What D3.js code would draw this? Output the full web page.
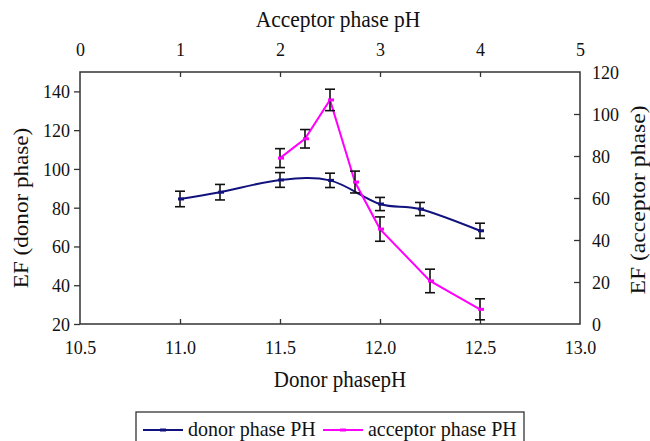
<!DOCTYPE html>
<html>
<head>
<meta charset="utf-8">
<script src="https://cdn.jsdelivr.net/npm/d3@7/dist/d3.min.js"></script>
<style>
  html, body { margin: 0; padding: 0; background: #fff; }
  svg { display: block; }
</style>
</head>
<body>
<svg id="chart" width="650" height="441"></svg>
<script>
// Donor phase series (bottom axis, left axis)
const donorPH  = [11.0, 11.2, 11.5, 11.75, 12.0, 12.2, 12.5];
const donorEF  = [84.5, 88.0, 94.3, 94.1, 81.9, 79.3, 68.1];
const donorErr = [4.0, 4.0, 3.8, 3.7, 3.4, 3.4, 3.9];

// Acceptor phase series (top axis, right axis)
const acceptorPH  = [2.0, 2.25, 2.5, 2.75, 3.0, 3.5, 4.0];
const acceptorEF  = [79.0, 88.2, 106.7, 67.6, 45.2, 20.5, 7.0];
const acceptorErr = [4.5, 4.4, 5.1, 5.2, 5.8, 5.6, 5.0];

// Axis ticks
const bottomTicks = [10.5, 11.0, 11.5, 12.0, 12.5, 13.0];
const topTicks    = [0, 1, 2, 3, 4, 5];
const leftTicks   = [20, 40, 60, 80, 100, 120, 140];
const rightTicks  = [0, 20, 40, 60, 80, 100, 120];

const legendLabels = ["donor phase PH", "acceptor phase PH"];

const FONT = "Liberation Serif";
const STRETCH = 1.1;   // glyphs are drawn slightly taller than wide

const svg = d3.select("#chart").attr("font-family", FONT);
const plot = { left: 80, right: 580, top: 72, bottom: 324 };

const xDonor = d3.scaleLinear().domain([10.5, 13.0]).range([plot.left, plot.right]);
const xAcc   = d3.scaleLinear().domain([0, 5]).range([plot.left, plot.right]);
const yDonor = d3.scaleLinear().domain([20, 150]).range([plot.bottom, plot.top]);
const yAcc   = d3.scaleLinear().domain([0, 120]).range([plot.bottom, plot.top]);

const axisColor = "#333";
const textColor = "#111";

// Move a text element's x/y into a transform so it can be stretched vertically
function stretchText(sel) {
  sel.each(function () {
    const t = d3.select(this);
    const x = +t.attr("x") || 0, y = +t.attr("y") || 0;
    t.attr("x", 0).attr("y", 0).attr("transform", `translate(${x},${y}) scale(1,${STRETCH})`);
  });
}

// Frame
svg.append("rect")
  .attr("x", plot.left).attr("y", plot.top)
  .attr("width", plot.right - plot.left).attr("height", plot.bottom - plot.top)
  .attr("fill", "none").attr("stroke", axisColor).attr("stroke-width", 1.5);

function styleAxis(g) {
  g.attr("font-family", FONT).attr("font-size", 18);
  g.select(".domain").remove();
  g.selectAll(".tick line").attr("stroke", axisColor).attr("stroke-width", 1.3);
  g.selectAll(".tick text").attr("fill", textColor).call(stretchText);
}

// Bottom axis (ticks point inward)
svg.append("g").attr("transform", `translate(0,${plot.bottom})`)
  .call(d3.axisBottom(xDonor).tickValues(bottomTicks).tickFormat(d3.format(".1f"))
    .tickSizeInner(-5).tickSizeOuter(0).tickPadding(16))
  .call(styleAxis)
  .call(g => g.selectAll(".tick line").filter(d => d === 10.5 || d === 13.0).remove());

// Top axis (ticks point inward)
svg.append("g").attr("transform", `translate(0,${plot.top})`)
  .call(d3.axisTop(xAcc).tickValues(topTicks).tickFormat(d3.format("d"))
    .tickSizeInner(-5).tickSizeOuter(0).tickPadding(16))
  .call(styleAxis)
  .call(g => g.selectAll(".tick line").filter(d => d === 0 || d === 5).remove());

// Left axis (ticks point outward)
svg.append("g").attr("transform", `translate(${plot.left},0)`)
  .call(d3.axisLeft(yDonor).tickValues(leftTicks).tickFormat(d3.format("d"))
    .tickSizeInner(6).tickSizeOuter(0).tickPadding(4))
  .call(styleAxis);

// Right axis (ticks point inward)
svg.append("g").attr("transform", `translate(${plot.right},0)`)
  .call(d3.axisRight(yAcc).tickValues(rightTicks).tickFormat(d3.format("d"))
    .tickSizeInner(-6).tickSizeOuter(0).tickPadding(12))
  .call(styleAxis)
  .call(g => g.selectAll(".tick line").filter(d => d === 0 || d === 120).remove());

// Axis titles
function label(x, y, size, text, rotate) {
  return svg.append("text")
    .attr("font-family", FONT).attr("font-size", size).attr("fill", textColor)
    .attr("text-anchor", "middle")
    .attr("transform", `translate(${x},${y}) scale(1,${STRETCH})` + (rotate ? " rotate(-90)" : ""))
    .text(text);
}
label(338, 27, 21.5, "Acceptor phase pH");
label(340, 387, 21, "Donor phasepH");
label(28, (plot.top + plot.bottom) / 2 + 10, 21, "EF (donor phase)", true);
label(645, (plot.top + plot.bottom) / 2 + 2, 21.5, "EF (acceptor phase)", true);

// Series drawing helper
function drawSeries(xs, ys, errs, xScale, yScale, color, curve) {
  const pts = xs.map((x, i) => ({ x, y: ys[i], e: errs[i] }));
  const g = svg.append("g");
  const line = d3.line().x(d => xScale(d.x)).y(d => yScale(d.y)).curve(curve);
  g.append("path").datum(pts).attr("d", line)
    .attr("fill", "none").attr("stroke", color).attr("stroke-width", 2);

  // Error bars
  const eb = g.selectAll(".eb").data(pts).enter().append("g");
  eb.append("line")
    .attr("x1", d => xScale(d.x)).attr("x2", d => xScale(d.x))
    .attr("y1", d => yScale(d.y - d.e)).attr("y2", d => yScale(d.y + d.e))
    .attr("stroke", "#111").attr("stroke-width", 1.6);
  [1, -1].forEach(s => {
    eb.append("line")
      .attr("x1", d => xScale(d.x) - 5).attr("x2", d => xScale(d.x) + 5)
      .attr("y1", d => yScale(d.y + s * d.e)).attr("y2", d => yScale(d.y + s * d.e))
      .attr("stroke", "#111").attr("stroke-width", 1.6);
  });

  // Dash markers
  g.selectAll(".mk").data(pts).enter().append("rect")
    .attr("x", d => xScale(d.x) - 2).attr("y", d => yScale(d.y) - 1.5)
    .attr("width", 6).attr("height", 3).attr("fill", color);
}

drawSeries(donorPH, donorEF, donorErr, xDonor, yDonor, "#12127f", d3.curveCatmullRom.alpha(0));
drawSeries(acceptorPH, acceptorEF, acceptorErr, xAcc, yAcc, "#ff00ff", d3.curveLinear);

// Legend
const lg = svg.append("g");
lg.append("rect").attr("x", 136).attr("y", 412).attr("width", 388).attr("height", 40)
  .attr("fill", "#fff").attr("stroke", axisColor).attr("stroke-width", 1.3);
const legendItems = [
  { label: legendLabels[0], color: "#12127f", x0: 143 },
  { label: legendLabels[1], color: "#ff00ff", x0: 323 }
];
legendItems.forEach(it => {
  lg.append("line").attr("x1", it.x0).attr("x2", it.x0 + 40).attr("y1", 430).attr("y2", 430)
    .attr("stroke", it.color).attr("stroke-width", 2);
  lg.append("rect").attr("x", it.x0 + 17).attr("y", 428.5).attr("width", 6).attr("height", 3)
    .attr("fill", it.color);
  lg.append("text")
    .attr("font-family", FONT).attr("font-size", 20).attr("fill", textColor)
    .attr("transform", `translate(${it.x0 + 45},436) scale(1,${STRETCH})`)
    .text(it.label);
});
</script>
</body>
</html>
